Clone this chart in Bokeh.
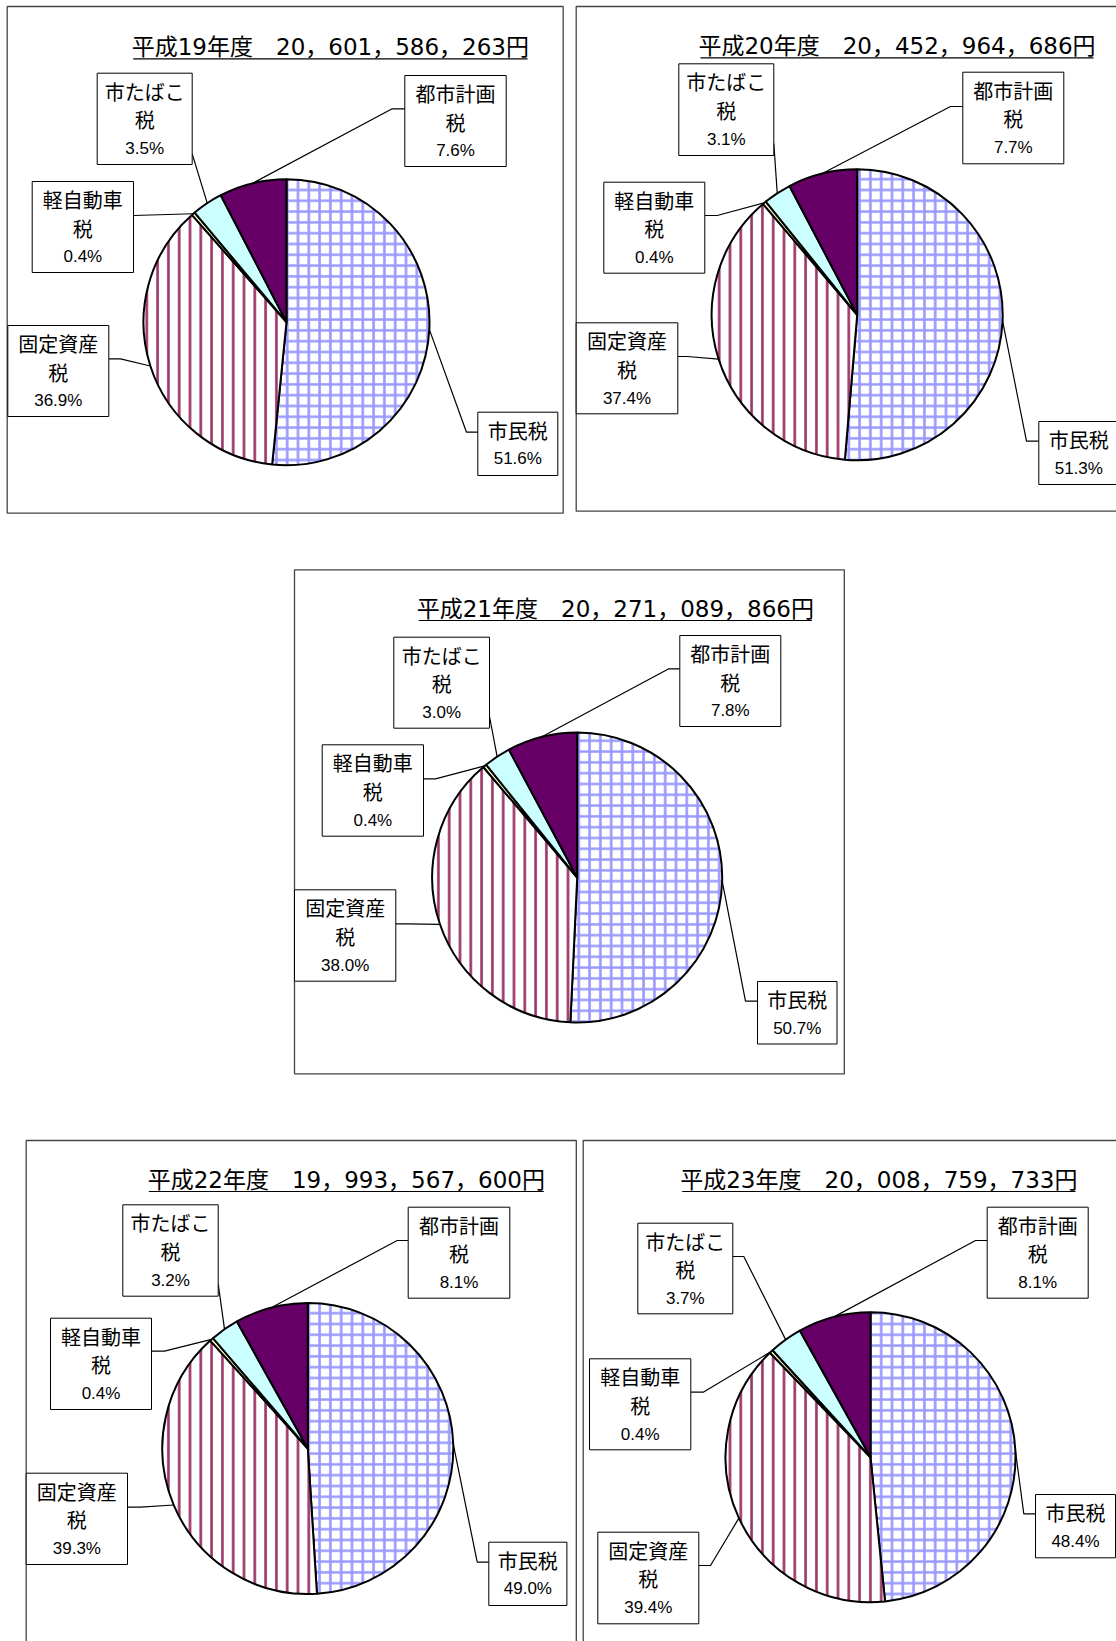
import math
from bokeh.plotting import figure
from bokeh.models import ColumnDataSource, Range1d
from bokeh.core.properties import value
from bokeh.embed import file_html
from bokeh.resources import INLINE

# ---------------- data ----------------
categories = ["市民税", "固定資産税", "軽自動車税", "市たばこ税", "都市計画税"]
label_lines = [["市民税"], ["固定資産", "税"], ["軽自動車", "税"], ["市たばこ", "税"], ["都市計画", "税"]]
years = ["平成19年度", "平成20年度", "平成21年度", "平成22年度", "平成23年度"]
totals = ["20，601，586，263円", "20，452，964，686円", "20，271，089，866円",
          "19，993，567，600円", "20，008，759，733円"]
pct_h19 = [51.6, 36.9, 0.4, 3.5, 7.6]
pct_h20 = [51.3, 37.4, 0.4, 3.1, 7.7]
pct_h21 = [50.7, 38.0, 0.4, 3.0, 7.8]
pct_h22 = [49.0, 39.3, 0.4, 3.2, 8.1]
pct_h23 = [48.4, 39.4, 0.4, 3.7, 8.1]
all_pcts = [pct_h19, pct_h20, pct_h21, pct_h22, pct_h23]

# ---------------- styles ----------------
fills = ["#FFFFFF", "#FFFFFF", "#FFFFCC", "#CCFFFF", "#660066"]
hatches = ["+", "|", " ", " ", " "]
hatch_colors = ["#9999FF", "#993366", "#000000", "#000000", "#000000"]

# ---------------- layout (page pixel coords) ----------------
W, H = 1116, 1641
OFF = 0

layouts = [
    dict(frame=(6.7, 6, 562.7, 512.7), title=(132.7, 527, 58.3), pie=(286, 321.7, 143),
         boxes=[(477.3, 411.7, 557.3, 475), (7.3, 325, 108.3, 416), (31.7, 181, 133, 272),
                (96.7, 72.7, 191.7, 164), (404.3, 75, 505.7, 166)],
         starts=[(477.3, 431.7), (108.3, 358.3), (133, 215), (191.7, 153.3), (404.3, 108.3)],
         elbows=[(466, 431.7), (120, 358.3), (133, 215), (191.7, 153.3), (391.7, 108.3)]),
    dict(frame=(575.7, 6, 1130, 510.7), title=(700, 1093, 57.3), pie=(856.7, 314.3, 145.5),
         boxes=[(1038.3, 421, 1118.3, 484), (575.7, 322.3, 677.3, 413.3), (603.3, 181.7, 704.3, 272.7),
                (678.3, 63.3, 773.3, 155), (962.3, 71.7, 1063.3, 163.3)],
         starts=[(1038.3, 440.7), (677.3, 356), (704.3, 215), (773.3, 143), (962.3, 106)],
         elbows=[(1026, 440.7), (686.7, 356), (716.7, 215), (773.3, 143), (950, 106)]),
    dict(frame=(294, 569.3, 843.8, 1073.3), title=(418.3, 811.4, 620), pie=(576.7, 877, 145),
         boxes=[(757, 981, 836.5, 1043.5), (294, 889.3, 395.3, 980.7), (321.7, 744.3, 423, 835.7),
                (393.3, 636.7, 489, 727.7), (679.3, 635, 780.3, 726)],
         starts=[(757, 1000.7), (395.3, 923.3), (423, 778.3), (489, 716), (679.3, 668.3)],
         elbows=[(745, 1000.7), (406.7, 923.3), (435, 778.3), (489, 716), (668.3, 668.3)]),
    dict(frame=(25.7, 1140, 575.8, 1700), title=(148.3, 543.3, 1191), pie=(307.3, 1448, 145.5),
         boxes=[(488.3, 1541.7, 566.4, 1605), (25.7, 1472.7, 127, 1564), (50, 1317.7, 151, 1409),
                (122.3, 1204.3, 217.7, 1295.7), (407.7, 1206.7, 509.3, 1297.7)],
         starts=[(488.3, 1561.7), (127, 1506.7), (151, 1350.7), (217.7, 1283.3), (407.7, 1240)],
         elbows=[(476.7, 1561.7), (140, 1506.7), (164, 1350.7), (217.7, 1283.3), (396.7, 1240)]),
    dict(frame=(582.7, 1140, 1130, 1700), title=(681.7, 1075, 1191), pie=(870, 1456.7, 145),
         boxes=[(1035, 1494, 1115, 1557.3), (597.3, 1531.7, 698.3, 1623.3), (589, 1358.3, 690.3, 1449.3),
                (637.3, 1222.7, 732.3, 1313.3), (986.7, 1206.7, 1087.7, 1297.7)],
         starts=[(1035, 1513.3), (698.3, 1565), (690.3, 1391.7), (732.3, 1256), (986.7, 1240)],
         elbows=[(1023.3, 1513.3), (710, 1565), (702.7, 1391.7), (743.3, 1256), (975, 1240)]),
]


def fx(x):
    return x - OFF


def fy(y):
    return H + OFF - y


p = figure(width=W, height=H, output_backend="svg", toolbar_location=None,
           x_range=Range1d(0, W), y_range=Range1d(0, H), min_border=0)
p.axis.visible = False
p.grid.visible = False
p.outline_line_color = None
p.background_fill_color = "white"

CJK = value("Noto Sans CJK JP")
LAT = value("Liberation Sans")
TITLE_FONT = value("DejaVu Sans, Noto Sans CJK JP")

for k, lay in enumerate(layouts):
    pcts = all_pcts[k]
    total = sum(pcts)
    cx, cy, r = lay["pie"]

    # chart frame
    fl, ft, fr, fb = lay["frame"]
    p.quad(left=[fx(fl)], right=[fx(fr)], top=[fy(ft)], bottom=[fy(fb)],
           fill_color=None, line_color="#444444", line_width=1.3)

    # title + underline
    tx0, tx1, uy = lay["title"]
    p.text(x=[fx((tx0 + tx1) / 2)], y=[fy(uy - 12)], text=[years[k] + "　" + totals[k]],
           text_font=TITLE_FONT, text_font_size="23px", text_align="center",
           text_baseline="middle", text_color="black")
    p.segment(x0=[fx(tx0)], y0=[fy(uy)], x1=[fx(tx1)], y1=[fy(uy)], line_color="black", line_width=1.2)

    # wedges
    cum = 0.0
    starts_a, ends_a, mids = [], [], []
    for v in pcts:
        f = v / total
        starts_a.append(math.pi / 2 - 2 * math.pi * cum)
        ends_a.append(math.pi / 2 - 2 * math.pi * (cum + f))
        mids.append(2 * math.pi * (cum + f / 2))
        cum += f

    # leader lines
    xs, ys = [], []
    for i in range(5):
        th = mids[i]
        ex, ey = cx + r * math.sin(th), cy - r * math.cos(th)
        sx, sy = lay["starts"][i]
        bx, by = lay["elbows"][i]
        xs.append([fx(sx), fx(bx), fx(ex)])
        ys.append([fy(sy), fy(by), fy(ey)])
    p.multi_line(xs=xs, ys=ys, line_color="black", line_width=1.2)

    src = ColumnDataSource(dict(
        x=[fx(cx)] * 5, y=[fy(cy)] * 5, start=starts_a, end=ends_a,
        fill=fills, hatch=hatches, hcol=hatch_colors, cat=categories))
    p.wedge(x="x", y="y", radius=r, start_angle="start", end_angle="end", direction="clock",
            source=src, fill_color="fill", hatch_pattern="hatch", hatch_color="hcol",
            hatch_scale=10.8, hatch_weight=2.6, line_color="black", line_width=2)

    # label boxes
    bl = [fx(b[0]) for b in lay["boxes"]]
    br = [fx(b[2]) for b in lay["boxes"]]
    bt = [fy(b[1]) for b in lay["boxes"]]
    bb = [fy(b[3]) for b in lay["boxes"]]
    p.quad(left=bl, right=br, top=bt, bottom=bb, fill_color="white", line_color="black", line_width=1)

    cjk_x, cjk_y, cjk_t = [], [], []
    pc_x, pc_y, pc_t = [], [], []
    for i in range(5):
        l, t, rr, b = lay["boxes"][i]
        mx = (l + rr) / 2
        lines = label_lines[i]
        for j, s in enumerate(lines):
            cjk_x.append(fx(mx))
            cjk_y.append(fy(t + 18 + 28.7 * j))
            cjk_t.append(s)
        pc_x.append(fx(mx))
        pc_y.append(fy(t + 18 + 28.7 * len(lines)))
        pc_t.append(f"{pcts[i]:.1f}%")
    p.text(x=cjk_x, y=cjk_y, text=cjk_t, text_font=CJK, text_font_size="20px",
           text_align="center", text_baseline="middle", text_color="black")
    p.text(x=pc_x, y=pc_y, text=pc_t, text_font=LAT, text_font_size="17px",
           text_align="center", text_baseline="middle", text_color="black")

open("out.html", "w").write(file_html(p, INLINE))
